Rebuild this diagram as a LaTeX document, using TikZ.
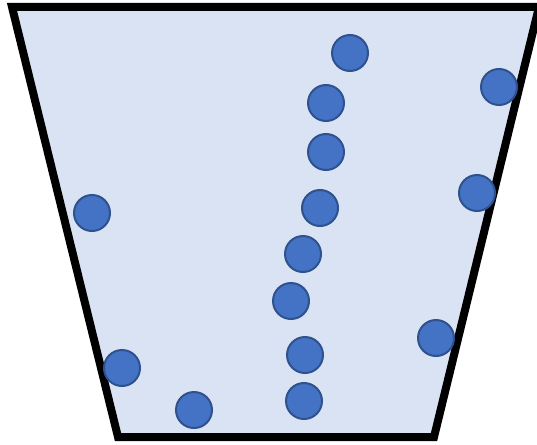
\documentclass[tikz,border=0pt]{standalone}
\begin{document}
\begin{tikzpicture}[x=1pt,y=-1pt,
  ball/.style={circle,fill={rgb,255:red,68;green,114;blue,196},draw={rgb,255:red,47;green,82;blue,143},line width=2pt,minimum size=36pt,inner sep=0pt}]
\useasboundingbox (0,0) rectangle (537,444);
\definecolor{bucket}{RGB}{218,227,243}
\draw[fill=bucket,line width=8pt,line join=miter] (12,7) -- (539,7) -- (434,437) -- (118,437) -- cycle;
\node[ball] (b1) at (350,53) {};
\node[ball] (b2) at (499,87) {};
\node[ball] (b3) at (326,103) {};
\node[ball] (b4) at (326,152) {};
\node[ball] (b5) at (477,193) {};
\node[ball] (b6) at (92,213) {};
\node[ball] (b7) at (320,208) {};
\node[ball] (b8) at (303,254) {};
\node[ball] (b9) at (291,301) {};
\node[ball] (b10) at (436,338) {};
\node[ball] (b11) at (122,368) {};
\node[ball] (b12) at (305,355) {};
\node[ball] (b13) at (194,410) {};
\node[ball] (b14) at (304,401) {};
\end{tikzpicture}
\end{document}
